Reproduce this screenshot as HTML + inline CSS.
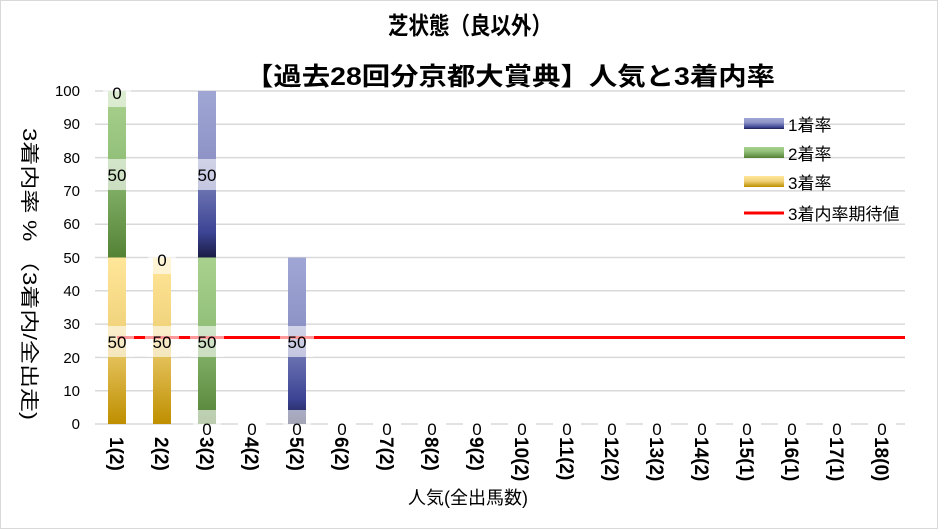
<!DOCTYPE html>
<html><head><meta charset="utf-8"><style>
body{margin:0;background:#fff}
svg{display:block;font-family:"Liberation Sans","Noto Sans CJK JP",sans-serif}
</style></head><body>
<svg width="938" height="529" viewBox="0 0 938 529">
<defs>
<linearGradient id="g3" x1="0" y1="0" x2="0" y2="1"><stop offset="0" stop-color="#ffe699"/><stop offset="0.45" stop-color="#f0d27a"/><stop offset="1" stop-color="#bf8f00"/></linearGradient>
<linearGradient id="g2" x1="0" y1="0" x2="0" y2="1"><stop offset="0" stop-color="#a9d18e"/><stop offset="0.4" stop-color="#93c17a"/><stop offset="1" stop-color="#548235"/></linearGradient>
<linearGradient id="g1" x1="0" y1="0" x2="0" y2="1"><stop offset="0" stop-color="#a0a6d4"/><stop offset="0.4" stop-color="#8e94c6"/><stop offset="0.85" stop-color="#3c4494"/><stop offset="1" stop-color="#1a1c44"/></linearGradient>
</defs>
<rect x="0.5" y="0.5" width="937" height="528" fill="#fff" stroke="#d9d9d9"/>
<text x="388" y="34" font-size="24" font-weight="bold" textLength="164" lengthAdjust="spacingAndGlyphs">芝状態（良以外）</text>
<text x="245" y="85" font-size="25" font-weight="bold" textLength="530" lengthAdjust="spacingAndGlyphs">【過去28回分京都大賞典】人気と3着内率</text>
<g stroke="#d9d9d9" stroke-width="1.5">
<line x1="95" y1="91" x2="905" y2="91"/><line x1="95" y1="124.3" x2="905" y2="124.3"/><line x1="95" y1="157.6" x2="905" y2="157.6"/><line x1="95" y1="190.9" x2="905" y2="190.9"/><line x1="95" y1="224.2" x2="905" y2="224.2"/><line x1="95" y1="257.5" x2="905" y2="257.5"/><line x1="95" y1="290.8" x2="905" y2="290.8"/><line x1="95" y1="324.1" x2="905" y2="324.1"/><line x1="95" y1="357.4" x2="905" y2="357.4"/><line x1="95" y1="390.7" x2="905" y2="390.7"/><line x1="95" y1="424" x2="905" y2="424"/>
</g>
<g font-size="15" text-anchor="end">
<text x="80" y="96">100</text><text x="80" y="129">90</text><text x="80" y="163">80</text><text x="80" y="196">70</text><text x="80" y="229">60</text><text x="80" y="263">50</text><text x="80" y="296">40</text><text x="80" y="329">30</text><text x="80" y="363">20</text><text x="80" y="396">10</text><text x="80" y="429">0</text>
</g>
<text transform="translate(23,128) rotate(90)" font-size="19" textLength="292" lengthAdjust="spacingAndGlyphs">3着内率 %  （3着内/全出走)</text>
<rect x="108" y="257.5" width="18" height="166.5" fill="url(#g3)"/>
<rect x="108" y="91" width="18" height="166.5" fill="url(#g2)"/>
<rect x="153" y="257.5" width="18" height="166.5" fill="url(#g3)"/>
<rect x="198" y="257.5" width="18" height="166.5" fill="url(#g2)"/>
<rect x="198" y="91" width="18" height="166.5" fill="url(#g1)"/>
<rect x="288" y="257.5" width="18" height="166.5" fill="url(#g1)"/>
<line x1="117" y1="337.5" x2="905" y2="337.5" stroke="#ff0000" stroke-width="3"/>
<g fill="#fff" fill-opacity="0.6">
<rect x="103" y="80" width="28" height="27"/>
<rect x="148" y="247" width="28" height="27"/>
<rect x="100" y="326" width="34" height="31"/><rect x="145" y="326" width="34" height="31"/><rect x="190" y="326" width="34" height="31"/><rect x="280" y="326" width="34" height="31"/>
<rect x="100" y="159" width="34" height="31"/><rect x="190" y="159" width="34" height="31"/>
<rect x="193" y="410" width="28" height="30"/><rect x="283" y="410" width="28" height="30"/>
</g>
<g fill="#fff">
<rect x="238" y="418" width="28" height="18"/><rect x="328" y="418" width="28" height="18"/><rect x="373" y="418" width="28" height="18"/><rect x="418" y="418" width="28" height="18"/><rect x="463" y="418" width="28" height="18"/><rect x="508" y="418" width="28" height="18"/><rect x="553" y="418" width="28" height="18"/><rect x="598" y="418" width="28" height="18"/><rect x="643" y="418" width="28" height="18"/><rect x="688" y="418" width="28" height="18"/><rect x="733" y="418" width="28" height="18"/><rect x="778" y="418" width="28" height="18"/><rect x="823" y="418" width="28" height="18"/><rect x="868" y="418" width="28" height="18"/>
</g>
<g font-size="17" text-anchor="middle">
<text x="117" y="99">0</text><text x="162" y="266">0</text>
<text x="117" y="181">50</text><text x="207" y="181">50</text>
<text x="117" y="348">50</text><text x="162" y="348">50</text><text x="207" y="348">50</text><text x="297" y="348">50</text>
<text x="207" y="435">0</text><text x="252" y="435">0</text><text x="297" y="435">0</text><text x="342" y="435">0</text><text x="387" y="435">0</text><text x="432" y="435">0</text><text x="477" y="435">0</text><text x="522" y="435">0</text><text x="567" y="435">0</text><text x="612" y="435">0</text><text x="657" y="435">0</text><text x="702" y="435">0</text><text x="747" y="435">0</text><text x="792" y="435">0</text><text x="837" y="435">0</text><text x="882" y="435">0</text>
</g>
<g font-size="19" font-weight="bold">
<text transform="translate(110,437) rotate(90)">1(2)</text>
<text transform="translate(155,437) rotate(90)">2(2)</text>
<text transform="translate(200,437) rotate(90)">3(2)</text>
<text transform="translate(245,437) rotate(90)">4(2)</text>
<text transform="translate(290,437) rotate(90)">5(2)</text>
<text transform="translate(335,437) rotate(90)">6(2)</text>
<text transform="translate(380,437) rotate(90)">7(2)</text>
<text transform="translate(425,437) rotate(90)">8(2)</text>
<text transform="translate(470,437) rotate(90)">9(2)</text>
<text transform="translate(515,437) rotate(90)">10(2)</text>
<text transform="translate(560,437) rotate(90)">11(2)</text>
<text transform="translate(605,437) rotate(90)">12(2)</text>
<text transform="translate(650,437) rotate(90)">13(2)</text>
<text transform="translate(695,437) rotate(90)">14(2)</text>
<text transform="translate(740,437) rotate(90)">15(1)</text>
<text transform="translate(785,437) rotate(90)">16(1)</text>
<text transform="translate(830,437) rotate(90)">17(1)</text>
<text transform="translate(875,437) rotate(90)">18(0)</text>
</g>
<text x="468" y="504" font-size="18" text-anchor="middle">人気(全出馬数)</text>
<rect x="744" y="118" width="40" height="11" fill="url(#g1)"/>
<rect x="744" y="147" width="40" height="11" fill="url(#g2)"/>
<rect x="744" y="176" width="40" height="11" fill="url(#g3)"/>
<line x1="744" y1="213" x2="784" y2="213" stroke="#ff0000" stroke-width="3"/>
<g font-size="17">
<text x="788" y="131">1着率</text><text x="788" y="160">2着率</text><text x="788" y="189">3着率</text><text x="788" y="220">3着内率期待値</text>
</g>
</svg>
</body></html>
